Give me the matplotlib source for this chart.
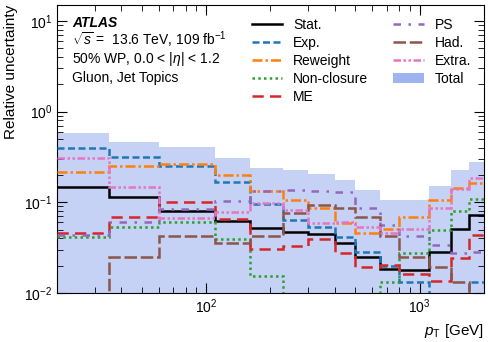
import matplotlib
matplotlib.use("Agg")
import matplotlib.pyplot as plt
from matplotlib.patches import Patch
from matplotlib.lines import Line2D
import numpy as np

plt.rcParams['font.family'] = ['Liberation Sans', 'DejaVu Sans']
plt.rcParams['mathtext.fontset'] = 'custom'
plt.rcParams['mathtext.rm'] = 'Liberation Sans'
plt.rcParams['mathtext.it'] = 'Liberation Sans:italic'
plt.rcParams['mathtext.bf'] = 'Liberation Sans:bold'

edges = [20, 35, 60, 110, 160, 230, 300, 400, 500, 650, 800, 1100, 1400, 1700, 2000]

stat = [0.146, 0.1135, 0.080, 0.062, 0.0516, 0.0467, 0.0448, 0.0359, 0.0247, 0.0182, 0.0178, 0.0285, 0.0502, 0.0725]
exp_ = [0.40, 0.315, 0.251, 0.166, 0.095, 0.064, 0.0535, 0.0416, 0.0280, 0.0198, 0.0133, 0.008, 0.008, 0.0133]
reweight = [0.216, 0.251, 0.266, 0.20, 0.134, 0.106, 0.087, 0.0596, 0.0455, 0.051, 0.069, 0.106, 0.145, 0.162]
nonclosure = [0.041, 0.053, 0.061, 0.039, 0.0155, 0.006, 0.006, 0.006, 0.0088, 0.0133, 0.0278, 0.0496, 0.081, 0.109]
me = [0.0455, 0.069, 0.101, 0.065, 0.0305, 0.033, 0.0392, 0.0274, 0.0195, 0.0205, 0.0162, 0.0136, 0.0242, 0.0436]
ps = [0.044, 0.061, 0.084, 0.103, 0.134, 0.137, 0.133, 0.13, 0.086, 0.056, 0.0425, 0.0335, 0.0274, 0.0285]
had = [0.005, 0.025, 0.042, 0.0353, 0.0425, 0.0756, 0.093, 0.086, 0.069, 0.0425, 0.0247, 0.0195, 0.0133, 0.006]
extra = [0.305, 0.149, 0.068, 0.0776, 0.099, 0.082, 0.0598, 0.060, 0.054, 0.0455, 0.0505, 0.0855, 0.14, 0.184]
total = [0.585, 0.466, 0.41, 0.305, 0.237, 0.226, 0.205, 0.176, 0.137, 0.106, 0.106, 0.151, 0.227, 0.28]

labels = ["Stat.", "Exp.", "Reweight", "Non-closure", "ME", "PS", "Had.", "Extra."]
series = [stat, exp_, reweight, nonclosure, me, ps, had, extra]
colors = ["black", "tab:blue", "tab:orange", "tab:green", "tab:red", "tab:purple", "tab:brown", "tab:pink"]
styles = ["-", (0, (2.8, 1.4)), (0, (4, 1.2, 1, 1.2)), (0, (1, 1.3)), (0, (4.5, 2.5)),
          (0, (3, 3, 1, 3)), (0, (5, 1.5)), (0, (3, 1, 1, 1, 1, 1))]

fig = plt.figure(figsize=(4.88, 3.42), dpi=100)
ax = fig.add_axes([0.1168, 0.1433, 0.875, 0.842])

ax.stairs(total, edges, fill=True, baseline=1e-4, color='royalblue', alpha=0.3, lw=0, zorder=1)

handles = []
for s, lab, c, ls in zip(series, labels, colors, styles):
    ax.stairs(s, edges, baseline=None, color=c, linestyle=ls, lw=1.8, zorder=3)
    handles.append(Line2D([], [], color=c, linestyle=ls, lw=1.8, label=lab))
handles.append(Patch(facecolor='royalblue', alpha=0.5, edgecolor='none', label='Total'))

ax.set_xscale('log')
ax.set_yscale('log')
ax.set_xlim(20, 2000)
ax.set_ylim(1e-2, 15)

ax.tick_params(which='both', direction='in', top=True, right=True, labelsize=10)
ax.tick_params(which='major', length=7)
ax.tick_params(which='minor', length=4)

ax.set_ylabel("Relative uncertainty", fontsize=11, loc='top')
ax.set_xlabel(r"$p_{\mathrm{T}}$ [GeV]", fontsize=11, loc='right')

x0 = 0.035
ax.text(x0, 0.924, "ATLAS", transform=ax.transAxes, fontsize=10, fontweight='bold',
        fontstyle='italic', va='baseline')
ax.text(x0, 0.861, r"$\sqrt{s}$ =  13.6 TeV, 109 fb$^{-1}$", transform=ax.transAxes,
        fontsize=10, va='baseline')
ax.text(x0, 0.797, r"50% WP, 0.0 < $|\eta|$ < 1.2", transform=ax.transAxes,
        fontsize=10, va='baseline')
ax.text(x0, 0.734, "Gluon, Jet Topics", transform=ax.transAxes, fontsize=10, va='baseline')

ax.legend(handles=handles, ncol=2, frameon=False, fontsize=10, loc='upper right',
          bbox_to_anchor=(1.0, 1.0), handlelength=2.2, columnspacing=1.8,
          labelspacing=0.3, handletextpad=0.8)

fig.savefig("out.png", dpi=100)
